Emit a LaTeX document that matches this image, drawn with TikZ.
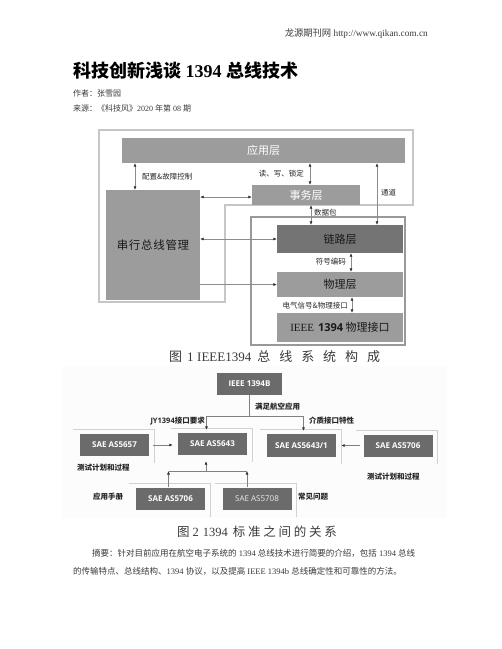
\documentclass[tikz,border=0pt]{standalone}
\usepackage{fontspec}
\usepackage{xcolor}
\setmainfont{Liberation Serif}
\newfontfamily\zh{Noto Sans CJK SC}
\newfontfamily\capone[LetterSpace=69]{Noto Sans CJK SC}
\newfontfamily\captwo[LetterSpace=22]{Noto Sans CJK SC}
\newfontfamily\zhwide[LetterSpace=6]{Noto Sans CJK SC}
\newfontfamily\osans{Open Sans}
\usetikzlibrary{arrows.meta,positioning,calc}

\definecolor{boxgray}{HTML}{6B6B6B}
\definecolor{layergray}{HTML}{9C9C9C}
\definecolor{linkgray}{HTML}{747474}
\definecolor{framegray}{HTML}{C6C6C6}
\definecolor{textgray}{HTML}{3A3A3A}
\tikzset{ptr/.tip={Latex[length=3.5pt,width=3pt,color=black!80]}}

\begin{document}
\begin{tikzpicture}[x=1pt,y=-1pt,
  layer/.style={inner sep=0pt, font=\zh\fontsize{11}{13}\selectfont},
  lbl/.style={inner sep=1pt, text=black!85, font=\zh\fontsize{7.5}{9}\selectfont},
  lbltwo/.style={inner sep=1pt, text=black!85, font=\zh\bfseries\fontsize{7.5}{9}\selectfont},
  dbl/.style={draw=black!45, line width=0.5pt, ptr-ptr},
  one/.style={draw=black!45, line width=0.5pt, -ptr},
  conn/.style={draw=black!50, line width=0.6pt},
  sae/.style={fill=boxgray, text=white, inner sep=0pt, minimum width=69pt,
    minimum height=22pt, font=\osans\bfseries\fontsize{8}{10}\selectfont},
  frameln/.style={draw=black!18, line width=0.7pt}]
  \useasboundingbox (0,0) rectangle (502,649);
  \fill[white] (0,0) rectangle (502,649);

  % Page head
  \node[anchor=east, inner sep=0pt, text=textgray, font=\fontsize{9.3}{11}\selectfont] (site) at (428,34)
    {{\zh 龙源期刊网} http://www.qikan.com.cn};
  \node[anchor=west, inner sep=0pt, font=\bfseries\fontsize{18}{20}\selectfont] (title) at (73,71)
    {{\zh\bfseries 科技创新浅谈} 1394 {\zh\bfseries 总线技术}};
  \node[anchor=west, inner sep=0pt, text=textgray, font=\zh\fontsize{8}{10}\selectfont] (author) at (73,93)
    {作者：张雪园};
  \node[anchor=west, inner sep=0pt, text=textgray, font=\fontsize{8}{10}\selectfont] (source) at (73,108)
    {{\zh 来源：《科技风》}2020 {\zh 年第} 08 {\zh 期}};

  % Figure 1: frames
  \draw[framegray, line width=2.5pt, line join=miter]
    (99,130) -- (413,130) -- (413,205) -- (225,205) -- (225,302) -- (99,302) -- cycle;
  \draw[black!40, line width=2pt, fill=white] (251,217) rectangle (405,345);

  % Figure 1: layers
  \node[layer, fill=layergray, text=white, minimum width=283pt, minimum height=25pt] (app) at (263.5,150.5) {应用层};
  \node[layer, fill=layergray, text=white, minimum width=108pt, minimum height=20pt] (trans) at (306,195) {事务层};
  \node[layer, fill=layergray, text=black!90, minimum width=94pt, minimum height=110pt,
    font=\zhwide\fontsize{11.5}{13}\selectfont] (sbm) at (153,245) {串行总线管理};
  \node[layer, fill=linkgray, text=black!90, minimum width=126pt, minimum height=28pt] (link) at (340,239) {链路层};
  \node[layer, fill=layergray, text=black!90, minimum width=126pt, minimum height=25pt] (phy) at (340,284.5) {物理层};
  \node[layer, fill=layergray, text=black!90, minimum width=126pt, minimum height=29pt] (ieee) at (340,327.5)
    {{\rmfamily IEEE}\hspace{4pt}{\osans\bfseries 1394} 物理接口};

  % Figure 1: connectors
  \draw[dbl] ([xshift=-18pt]sbm.north) -- ([xshift=-18pt]sbm.north |- app.south);
  \node[lbl, anchor=west] (cfg) at (141,177) {配置\&故障控制};
  \draw[dbl] ([xshift=4pt]trans.north) -- ([xshift=4pt]trans.north |- app.south);
  \node[lbl, anchor=east] (rw) at (305,174) {读、写、锁定};
  \draw[dbl] ([xshift=37pt]link.north) -- ([xshift=37pt]link.north |- app.south);
  \node[lbl, anchor=west] (chan) at (380,193) {通道};
  \draw[dbl] ([xshift=5pt]trans.south) -- ([xshift=5pt]trans.south |- link.north);
  \node[lbl, anchor=west] (pkt) at (313,213) {数据包};
  \draw[dbl] ([yshift=-2pt]trans.west -| sbm.east) -- ([yshift=-2pt]trans.west);
  \draw[dbl] (link.west -| sbm.east) -- (link.west);
  \draw[one] (phy.west -| sbm.east) -- (phy.west);
  \draw[dbl] ([xshift=11pt]link.south) -- ([xshift=11pt]phy.north);
  \node[lbl, anchor=east] (sym) at (347,262) {符号编码};
  \draw[dbl] ([xshift=12pt]phy.south) -- ([xshift=12pt]ieee.north);
  \node[lbl, anchor=east] (elec) at (349,306) {电气信号\&物理接口};

  \node[anchor=west, inner sep=0pt, text=textgray, font=\fontsize{13}{15}\selectfont] (capA) at (169,357)
    {{\zh 图}\hspace{5pt}1\hspace{3.5pt}IEEE1394\hspace{6pt}{\capone 总线系统构成}};

  % Figure 2
  \fill[black!1] (62,366) rectangle (447,518);
  \node[sae, minimum width=65pt] (ieeeb) at (249.5,384) {IEEE 1394B};
  \node[sae] (s5643) at (212.5,444) {SAE AS5643};
  \node[sae] (s5657) at (114.5,445) {SAE AS5657};
  \node[sae, minimum height=23pt] (s56431) at (301.5,445.5) {SAE AS5643/1};
  \node[sae] (s5706r) at (398,445.5) {SAE AS5706};
  \node[sae] (s5706b) at (170.5,498.5) {SAE AS5706};
  \node[sae, text=black!8, font=\osans\fontsize{8}{10}\selectfont] (s5708) at (257,498.5) {SAE AS5708};
  \foreach \b in {s5657,s5643,s56431,s5706r,s5706b,s5708}
    \draw[frameln] ([shift={(-7,-4)}]\b.north west) -- ([shift={(5,-4)}]\b.north east)
      -- ([shift={(5,7)}]\b.south east);

  \draw[conn] (ieeeb.south) -- ++(0,21) coordinate (split);
  \draw[conn, -ptr, shorten >=3pt] (split) -| ([xshift=-6pt]s5643.north);
  \draw[conn, -ptr, shorten >=3pt] (split) -| ([xshift=2pt]s56431.north);
  \node[lbltwo, anchor=west] (need) at (254,407) {满足航空应用};
  \node[lbltwo, anchor=east] (jy) at (206,421) {{\osans\bfseries JY1394}接口要求};
  \node[lbltwo, anchor=west] (media) at (308,421) {介质接口特性};

  \draw[conn, -ptr, shorten <=4pt, shorten >=5pt] (s5657.east) -- (s5657.east -| s5643.west);
  \draw[conn, -ptr, shorten <=3pt, shorten >=5pt] (s5706r.west) -- (s5706r.west -| s56431.east);

  \coordinate (join) at (206,471);
  \draw[conn, -ptr] ([xshift=-2pt]s5706b.north) -- ([xshift=-2pt]s5706b.north |- join);
  \draw[conn, -ptr] ([xshift=-10pt]s5708.north) -- ([xshift=-10pt]s5708.north |- join);
  \draw[conn] ([xshift=-2pt]s5706b.north |- join) -- ([xshift=-10pt]s5708.north |- join);
  \draw[conn, -ptr, shorten >=6pt] (join) -- (join |- s5643.south);

  \node[lbltwo, anchor=west] (testl) at (76,468) {测试计划和过程};
  \node[lbltwo, anchor=west] (testr) at (366,477) {测试计划和过程};
  \node[lbltwo, anchor=west] (manual) at (92,497) {应用手册};
  \node[lbltwo, anchor=west] (faq) at (297,497) {常见问题};

  \node[anchor=west, inner sep=0pt, text=textgray, font=\fontsize{12.5}{15}\selectfont] (capB) at (177,532)
    {{\zh 图}\hspace{3pt}2\hspace{4pt}1394\hspace{5pt}{\captwo 标准之间的关系}};

  % Abstract
  \node[anchor=west, inner sep=0pt, text=textgray, font=\fontsize{8.5}{10}\selectfont] (absA) at (92,553)
    {{\zh 摘要：针对目前应用在航空电子系统的} 1394 {\zh 总线技术进行简要的介绍，包括} 1394 {\zh 总线}};
  \node[anchor=west, inner sep=0pt, text=textgray, font=\fontsize{8.5}{10}\selectfont] (absB) at (73,571)
    {{\zh 的传输特点、总线结构、}1394 {\zh 协议，以及提高} IEEE 1394b {\zh 总线确定性和可靠性的方法。}};
\end{tikzpicture}
\end{document}
